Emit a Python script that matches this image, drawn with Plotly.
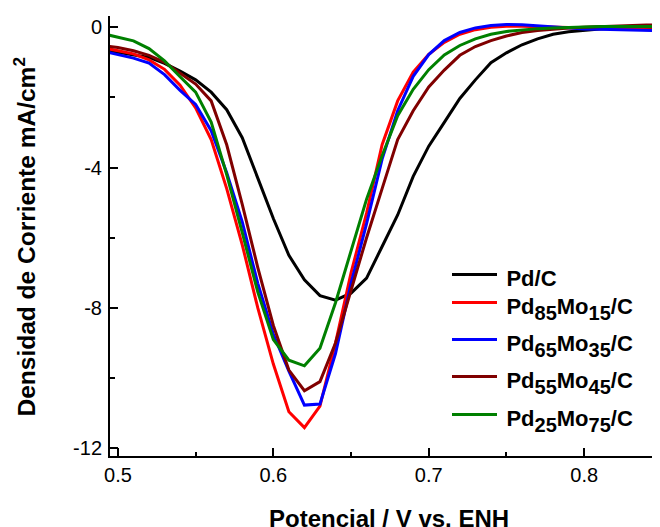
import plotly.graph_objects as go

# Potential (V vs. ENH)
potential = [0.49, 0.50, 0.51, 0.52, 0.53, 0.54, 0.55, 0.56, 0.57, 0.58, 0.59,
             0.60, 0.61, 0.62, 0.63, 0.64, 0.65, 0.66, 0.67, 0.68, 0.69,
             0.70, 0.71, 0.72, 0.73, 0.74, 0.75, 0.76, 0.77, 0.78, 0.79,
             0.80, 0.81, 0.82, 0.83, 0.84, 0.85]

# Current density (mA/cm2)
j_pd = [-0.64, -0.71, -0.77, -0.86, -1.03, -1.25, -1.50, -1.85, -2.35, -3.15, -4.30,
        -5.45, -6.50, -7.20, -7.65, -7.78, -7.58, -7.15, -6.25, -5.35, -4.25,
        -3.39, -2.71, -2.03, -1.50, -1.01, -0.73, -0.50, -0.33, -0.20, -0.13,
        -0.08, -0.05, -0.03, -0.02, -0.01, 0.00]
j_pd85 = [-0.58, -0.66, -0.76, -0.93, -1.20, -1.65, -2.30, -3.20, -4.60, -6.20, -8.00,
          -9.60, -10.96, -11.41, -10.80, -9.00, -7.00, -5.30, -3.35, -2.10, -1.28,
          -0.77, -0.43, -0.20, -0.07, 0.00, 0.03, 0.03, 0.02, 0.00, -0.02,
          -0.03, -0.04, -0.05, -0.06, -0.07, -0.08]
j_pd65 = [-0.68, -0.78, -0.88, -1.02, -1.35, -1.80, -2.20, -2.95, -4.15, -5.55, -7.30,
          -8.75, -9.80, -10.77, -10.74, -9.30, -7.30, -5.60, -3.76, -2.38, -1.40,
          -0.78, -0.38, -0.15, -0.02, 0.05, 0.08, 0.07, 0.04, 0.00, -0.03,
          -0.05, -0.06, -0.07, -0.08, -0.09, -0.10]
j_pd55 = [-0.52, -0.58, -0.67, -0.80, -1.00, -1.31, -1.62, -2.10, -3.35, -5.05, -6.85,
          -8.50, -9.77, -10.36, -10.10, -9.00, -7.50, -6.00, -4.60, -3.20, -2.38,
          -1.70, -1.22, -0.80, -0.55, -0.38, -0.25, -0.15, -0.09, -0.05, -0.02,
          0.00, 0.02, 0.04, 0.05, 0.06, 0.07]
j_pd25 = [-0.18, -0.28, -0.39, -0.61, -0.96, -1.41, -1.85, -2.70, -4.20, -5.85, -7.55,
          -8.90, -9.49, -9.65, -9.15, -7.85, -6.38, -4.90, -3.66, -2.52, -1.77,
          -1.21, -0.79, -0.52, -0.33, -0.20, -0.12, -0.07, -0.04, -0.02, 0.00,
          0.01, 0.02, 0.02, 0.02, 0.02, 0.02]

def main(t):
    return '<span style="font-size:22px">' + t + '</span>'

names = [main("\u2009Pd/C"),
         main("\u2009Pd") + "<sub>85</sub>" + main("Mo") + "<sub>15</sub>" + main("/C"),
         main("\u2009Pd") + "<sub>65</sub>" + main("Mo") + "<sub>35</sub>" + main("/C"),
         main("\u2009Pd") + "<sub>55</sub>" + main("Mo") + "<sub>45</sub>" + main("/C"),
         main("\u2009Pd") + "<sub>25</sub>" + main("Mo") + "<sub>75</sub>" + main("/C")]
series = [j_pd, j_pd85, j_pd65, j_pd55, j_pd25]
colors = ["#000000", "#FF0000", "#0000FF", "#800000", "#008000"]

x_ticks = [0.5, 0.6, 0.7, 0.8]
x_ticktext = ["0.5", "0.6", "0.7", "0.8"]
y_ticks = [-12, -8, -4, 0]
y_ticktext = ["-12", "-8", "-4", "0"]

FONT = "Liberation Sans, Arial, sans-serif"

fig = go.Figure()
legend_ids = ["legend", "legend2", "legend3", "legend4", "legend5"]
for name, ys, col, lid in zip(names, series, colors, legend_ids):
    fig.add_trace(go.Scatter(x=potential, y=ys, mode="lines", name=name,
                             line=dict(color=col, width=3), legend=lid))

# page offset (body margin) and plot-area pixel geometry in page coordinates
OFF = 8
W, H = 660, 527
L, R, T, B = 110, 660, 16, 456
def px_x(p):
    return (p - L) / (R - L)
def px_y(p):
    return (B - p) / (B - T)

legend_rows = [275, 303, 340, 377, 415]
leg_common = dict(font=dict(family=FONT, size=28.6, color="black", weight="bold"),
                  bgcolor="rgba(0,0,0,0)", borderwidth=0, itemwidth=45,
                  xanchor="left", yanchor="middle", x=px_x(447), tracegroupgap=0)
layout_legends = {}
for lid, row in zip(legend_ids, legend_rows):
    layout_legends[lid] = dict(leg_common, y=px_y(row))

axis_font = dict(family=FONT, size=20, color="black")
fig.update_layout(
    width=W, height=H,
    margin=dict(l=L - OFF, r=W - (R - OFF), t=T - OFF, b=H - (B - OFF)),
    paper_bgcolor="white", plot_bgcolor="white",
    showlegend=True,
    xaxis=dict(range=[0.4949, 0.8488], tickvals=x_ticks, ticktext=x_ticktext,
               ticks="inside", ticklen=8, tickwidth=2, tickcolor="black",
               showline=True, linewidth=2, linecolor="black",
               showgrid=False, zeroline=False, tickfont=axis_font,
               minor=dict(dtick=0.05, tick0=0.5, ticks="inside", ticklen=4,
                          tickwidth=1.5, tickcolor="black", showgrid=False)),
    yaxis=dict(range=[-12.22, 0.32], tickvals=y_ticks, ticktext=y_ticktext,
               ticks="inside", ticklen=8, tickwidth=2, tickcolor="black",
               showline=True, linewidth=2, linecolor="black", ticklabelstandoff=2,
               showgrid=False, zeroline=False, tickfont=axis_font,
               minor=dict(dtick=2, tick0=0, ticks="inside", ticklen=5,
                          tickwidth=1.5, tickcolor="black", showgrid=False)),
    xaxis2=dict(overlaying="x", side="top", anchor="y", range=[0, 4.94],
                dtick=1, tick0=0, ticks="inside", ticklen=8, tickwidth=1.5,
                tickcolor="black", showticklabels=False, showline=True,
                linewidth=2, linecolor="black", showgrid=False, zeroline=False,
                minor=dict(dtick=0.5, tick0=0, ticks="inside", ticklen=4,
                           tickwidth=1.5, tickcolor="black", showgrid=False)),
    yaxis2=dict(overlaying="y", side="right", anchor="x", range=[0, 5],
                dtick=1, tick0=0, ticks="inside", ticklen=2, tickwidth=1,
                tickcolor="#888888", showticklabels=False, showline=False,
                showgrid=False, zeroline=False),
    annotations=[
        dict(text="<b>Potencial / V vs. ENH</b>", xref="paper", yref="paper",
             x=px_x(388.5), y=px_y(519), xanchor="center", yanchor="middle",
             showarrow=False, font=dict(family=FONT, size=24, color="black")),
        dict(text="<b>Densidad de Corriente mA/cm<sup>2</sup></b>", xref="paper",
             yref="paper", x=px_x(24.5), y=px_y(237), xanchor="center",
             yanchor="middle", textangle=-90, showarrow=False,
             font=dict(family=FONT, size=24.5, color="black")),
    ],
    **layout_legends,
)

fig.write_html("out.html")
